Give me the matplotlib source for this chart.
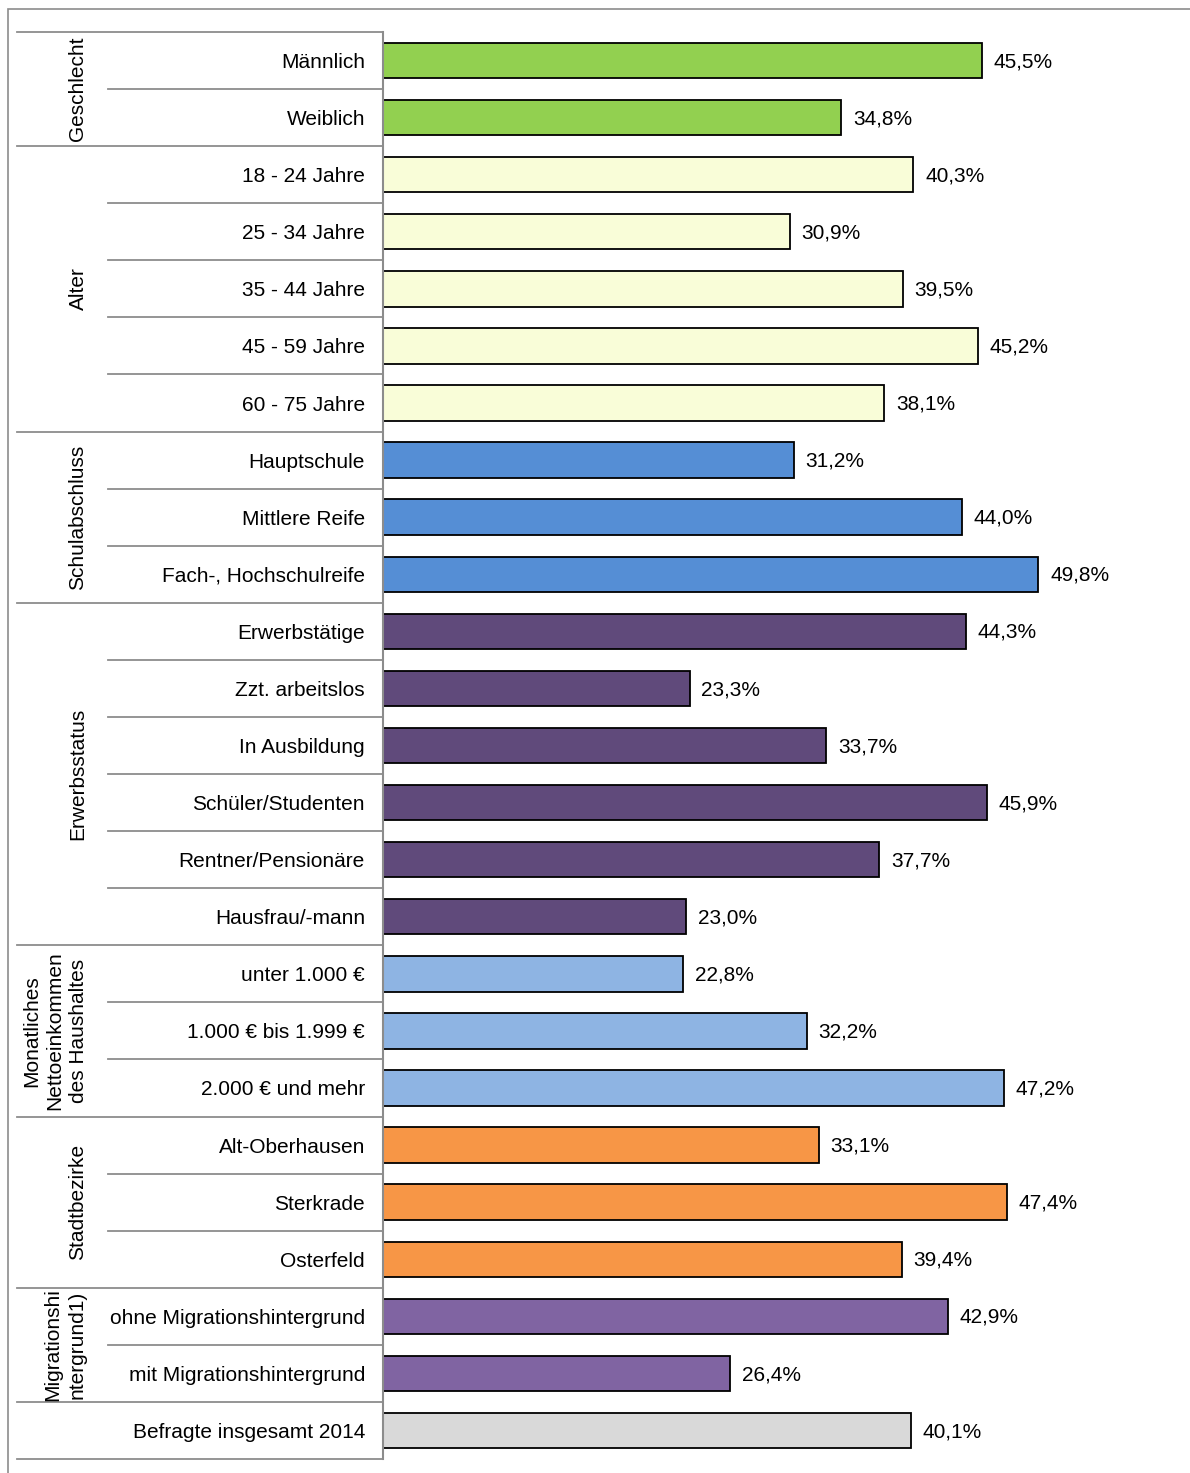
import matplotlib.pyplot as plt
import matplotlib.transforms as mtransforms
from matplotlib.patches import Rectangle

plt.rcParams['font.family'] = ['Liberation Sans', 'DejaVu Sans']

# Daten
kategorien = ["Männlich", "Weiblich",
              "18 - 24 Jahre", "25 - 34 Jahre", "35 - 44 Jahre", "45 - 59 Jahre", "60 - 75 Jahre",
              "Hauptschule", "Mittlere Reife", "Fach-, Hochschulreife",
              "Erwerbstätige", "Zzt. arbeitslos", "In Ausbildung", "Schüler/Studenten",
              "Rentner/Pensionäre", "Hausfrau/-mann",
              "unter 1.000 €", "1.000 € bis 1.999 €", "2.000 € und mehr",
              "Alt-Oberhausen", "Sterkrade", "Osterfeld",
              "ohne Migrationshintergrund", "mit Migrationshintergrund",
              "Befragte insgesamt 2014"]
werte = [45.5, 34.8,
         40.3, 30.9, 39.5, 45.2, 38.1,
         31.2, 44.0, 49.8,
         44.3, 23.3, 33.7, 45.9, 37.7, 23.0,
         22.8, 32.2, 47.2,
         33.1, 47.4, 39.4,
         42.9, 26.4,
         40.1]
gruppen = ["Geschlecht", "Alter", "Schulabschluss", "Erwerbsstatus",
           "Monatliches\nNettoeinkommen\ndes Haushaltes", "Stadtbezirke",
           "Migrationshi\nntergrund1)", ""]
gruppen_groesse = [2, 5, 3, 6, 3, 3, 2, 1]
farben_gruppe = ["#92D050", "#F9FDD8", "#558ED5", "#604A7B",
                 "#8EB4E3", "#F79646", "#8064A2", "#D9D9D9"]

W, H = 1190, 1473
fig = plt.figure(figsize=(W / 100, H / 100), dpi=100)

# Rahmen
fig.patches.append(Rectangle((8 / W, -0.01), 1.2, (H - 9) / H + 0.01, transform=fig.transFigure,
                             fill=False, edgecolor="#8C8C8C", linewidth=1.2))

x0, x1 = 383, 1190
ytop, ybot = 32, 1459
ax = fig.add_axes([x0 / W, (H - ybot) / H, (x1 - x0) / W, (ybot - ytop) / H])

farben = []
for f, n in zip(farben_gruppe, gruppen_groesse):
    farben += [f] * n

n = len(kategorien)
pos = [i + 0.5 for i in range(n)]
ax.barh(pos, werte, height=0.62, color=farben, edgecolor="black", linewidth=1.3)
ax.set_xlim(0, (x1 - x0) / 13.16)
ax.set_ylim(n, 0)

for p, v in zip(pos, werte):
    ax.text(v + 0.9, p + 0.02, f"{v:.1f}%".replace(".", ","), va="center", ha="left", fontsize=15)

ax.set_yticks(pos)
ax.set_yticklabels(kategorien, fontsize=15)
ax.tick_params(axis="y", length=0, pad=13)
ax.set_xticks([])
for s in ["top", "right", "bottom"]:
    ax.spines[s].set_visible(False)
ax.spines["left"].set_color("#8C8C8C")
ax.spines["left"].set_linewidth(1.5)

# Trennlinien
trans = mtransforms.blended_transform_factory(fig.transFigure, ax.transData)
grenzen = [0]
for g in gruppen_groesse:
    grenzen.append(grenzen[-1] + g)
for i in range(n + 1):
    xs = 17 if i in grenzen else 108
    ax.plot([xs / W, x0 / W], [i, i], color="#8C8C8C", linewidth=1.3,
            transform=trans, clip_on=False)

# Gruppenbeschriftung
label_x = [78, 78, 78, 78, 55, 78, 65, 78]
for name, a, b, lx in zip(gruppen, grenzen[:-1], grenzen[1:], label_x):
    if name:
        ax.text(lx / W, (a + b) / 2, name, rotation=90, ha="center", va="center",
                fontsize=15, multialignment="center", linespacing=1.3,
                transform=trans)

fig.savefig("out.png", dpi=100)
